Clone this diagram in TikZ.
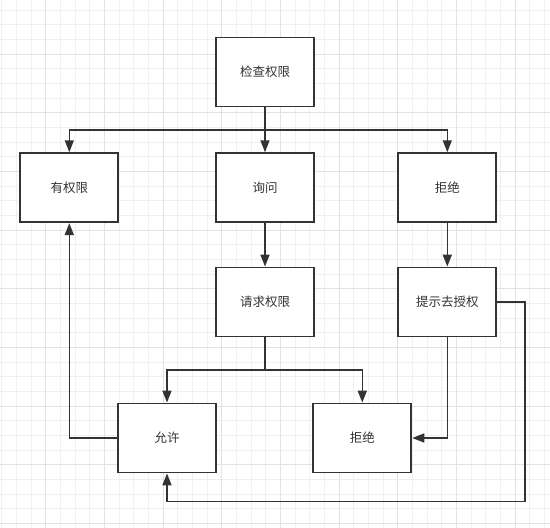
\documentclass[tikz,border=0pt]{standalone}
\usepackage{fontspec}
\newfontfamily\cjk{Noto Sans CJK SC}
\usetikzlibrary{arrows.meta}
\definecolor{ink}{HTML}{333333}
\definecolor{gridminor}{HTML}{F0F0F0}
\definecolor{gridmajor}{HTML}{E2E2E2}
\tikzset{
  box/.style={draw=ink, line width=1.9pt, fill=white, minimum width=98pt, minimum height=69pt, inner sep=0pt, font=\cjk\fontsize{12.5}{14}\selectfont, text=ink},
  conn/.style={draw=ink, line width=1.6pt},
  arr/.style={conn, -{Triangle[length=12pt,width=9pt]}},
  gminor/.style={draw=gridminor, line width=1pt},
  gmajor/.style={draw=gridmajor, line width=1pt}
}
\begin{document}
\begin{tikzpicture}[x=1pt,y=-1pt]
\fill[white] (0,0) rectangle (550,528);
\useasboundingbox (0,0) rectangle (550,528);
% grid
\foreach \i in {0,...,37} \draw[gminor] ({1.7+\i*14.667},0) -- ++(0,528);
\foreach \j in {0,...,35} \draw[gminor] (0,{10+\j*14.667}) -- ++(550,0);
\foreach \i in {3,7,...,35} \draw[gmajor] ({1.7+\i*14.667},0) -- ++(0,528);
\foreach \j in {3,7,...,35} \draw[gmajor] (0,{10+\j*14.667}) -- ++(550,0);
% nodes
\node[box] (check) at (265,72) {检查权限};
\node[box] (has) at (69.3,187.7) {有权限};
\node[box] (ask) at (265,187.7) {询问};
\node[box] (rej1) at (447.3,187.7) {拒绝};
\node[box] (req) at (265,302) {请求权限};
\node[box] (hint) at (447.3,302) {提示去授权};
\node[box] (allow) at (167,438) {允许};
\node[box] (rej2) at (362.3,438) {拒绝};
% junctions
\coordinate (j1) at (265,130);
\coordinate (j2) at (265,370);
\coordinate (r1) at (525,501.5);
% connectors
\draw[arr] (check.south) -- (ask.north);
\draw[arr] (j1) -| (has.north);
\draw[arr] (j1) -| (rej1.north);
\draw[arr] (ask.south) -- (req.north);
\draw[arr] (rej1.south) -- (hint.north);
\draw[conn] (req.south) -- (j2);
\draw[arr] (j2) -| (allow.north);
\draw[arr] (j2) -| (rej2.north);
\draw[arr] (hint.south) |- (rej2.east);
\draw[arr] (hint.east) -| (r1) -| (allow.south);
\draw[arr] (allow.west) -| (has.south);
\end{tikzpicture}
\end{document}
